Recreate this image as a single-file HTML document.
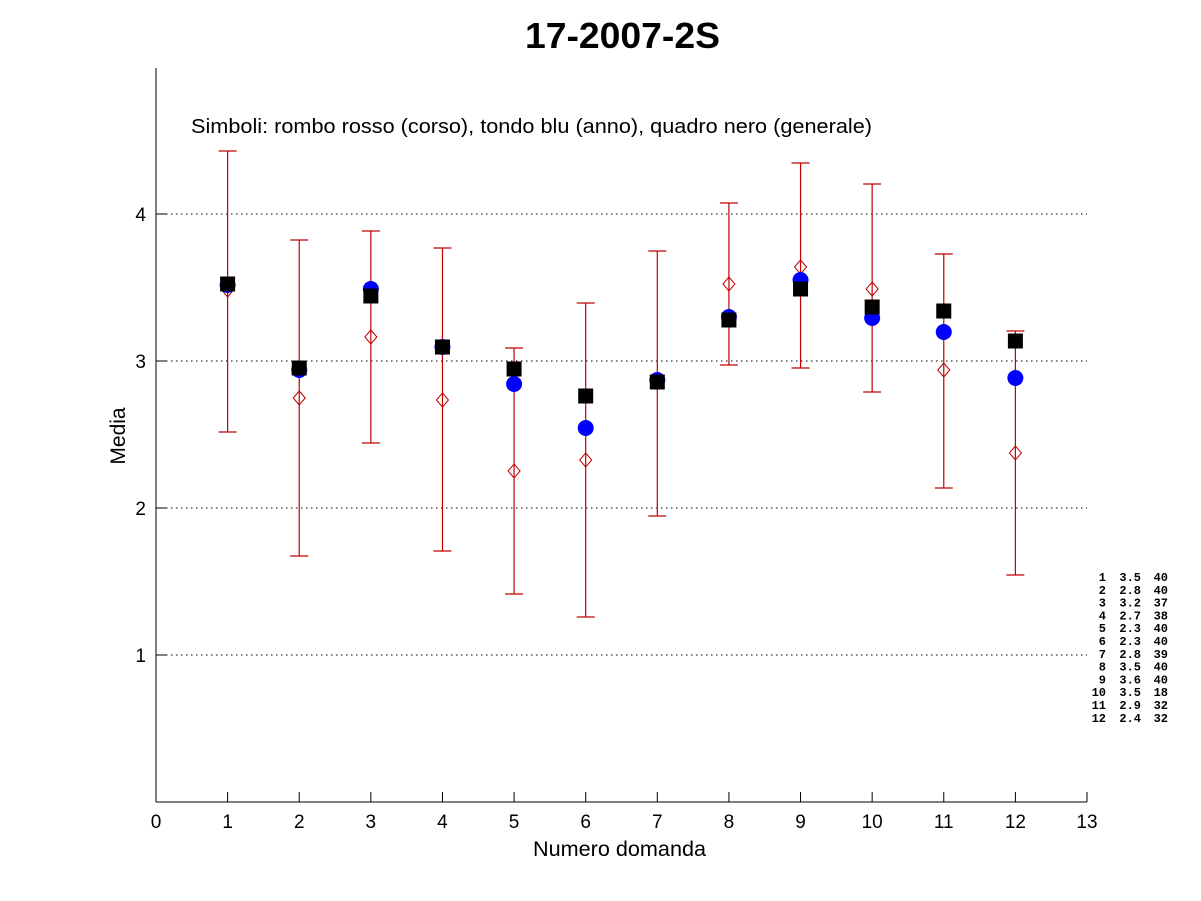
<!DOCTYPE html>
<html><head><style>body{margin:0;background:#fff}svg{display:block}</style></head><body>
<svg width="1201" height="901" xmlns="http://www.w3.org/2000/svg" font-family="Liberation Sans, Arial, sans-serif">
<rect width="1201" height="901" fill="#fff"/>
<text x="525" y="48" font-size="36" font-weight="bold" textLength="195" lengthAdjust="spacingAndGlyphs">17-2007-2S</text>
<g stroke="#000" stroke-dasharray="1.5,3.5" stroke-width="1">
<line x1="156" x2="1087" y1="214" y2="214"/><line x1="156" x2="1087" y1="361" y2="361"/>
<line x1="156" x2="1087" y1="508" y2="508"/><line x1="156" x2="1087" y1="655" y2="655"/>
</g>
<g stroke="#000" stroke-width="1">
<line x1="156" y1="68" x2="156" y2="802"/><line x1="156" y1="802" x2="1087" y2="802"/>
<line x1="156" x2="166" y1="214" y2="214"/><line x1="156" x2="166" y1="361" y2="361"/>
<line x1="156" x2="166" y1="508" y2="508"/><line x1="156" x2="166" y1="655" y2="655"/>
</g>
<g id="xt"></g>
<g font-size="19" text-anchor="end">
<text x="146" y="221">4</text><text x="146" y="368">3</text><text x="146" y="515">2</text><text x="146" y="662">1</text>
</g>
<text x="533" y="856" font-size="21" textLength="173" lengthAdjust="spacingAndGlyphs">Numero domanda</text>
<text transform="translate(125,436) rotate(-90)" text-anchor="middle" font-size="21">Media</text>
<text x="191" y="133" font-size="20" textLength="681" lengthAdjust="spacingAndGlyphs">Simboli: rombo rosso (corso), tondo blu (anno), quadro nero (generale)</text>
<g id="plot"></g>
<g font-family="Liberation Mono, monospace" font-size="12" font-weight="bold" text-anchor="end" id="tbl"></g>
<script>
var ns="http://www.w3.org/2000/svg";
function el(p,t,a,txt){var e=document.createElementNS(ns,t);for(var k in a)e.setAttribute(k,a[k]);if(txt!==undefined)e.textContent=txt;p.appendChild(e);return e;}
var xt=document.getElementById('xt');
for(var i=0;i<=13;i++){var x=156+i*931/13;if(i>0)el(xt,'line',{x1:x,x2:x,y1:802,y2:792,stroke:'#000'});el(xt,'text',{x:x,y:828,'text-anchor':'middle','font-size':19},i);}
var d=[[290,285,284,151,432],[398,370,368,240,556],[337,289,296,231,443],[400,347,347,248,551],[471,384,369,348,594],[460,428,396,303,617],[381,380,382,251,516],[284,317,320,203,365],[267,280,289,163,368],[289,318,307,184,392],[370,332,311,254,488],[453,378,341,331,575]];
var p=document.getElementById('plot');
d.forEach(function(r,i){var x=156+(i+1)*931/13;
el(p,'line',{x1:x,x2:x,y1:r[3],y2:r[4],stroke:'#c00000','stroke-width':1.2});
el(p,'line',{x1:x-9,x2:x+9,y1:r[3],y2:r[3],stroke:'#c00000','stroke-width':1.2});
el(p,'line',{x1:x-9,x2:x+9,y1:r[4],y2:r[4],stroke:'#c00000','stroke-width':1.2});
el(p,'polygon',{points:(x)+','+(r[0]-7)+' '+(x+6)+','+r[0]+' '+x+','+(r[0]+7)+' '+(x-6)+','+r[0],fill:'none',stroke:'#c00000','stroke-width':1});
el(p,'circle',{cx:x,cy:r[1],r:8,fill:'#0000ff'});
el(p,'rect',{x:x-7.5,y:r[2]-7.5,width:15,height:15,fill:'#000'});
});
var t=[['1','3.5','40'],['2','2.8','40'],['3','3.2','37'],['4','2.7','38'],['5','2.3','40'],['6','2.3','40'],['7','2.8','39'],['8','3.5','40'],['9','3.6','40'],['10','3.5','18'],['11','2.9','32'],['12','2.4','32']];
var g=document.getElementById('tbl');
t.forEach(function(r,i){var y=581+i*12.8;el(g,'text',{x:1106,y:y},r[0]);el(g,'text',{x:1141,y:y},r[1]);el(g,'text',{x:1168,y:y},r[2]);});
</script>
</svg>
</body></html>
